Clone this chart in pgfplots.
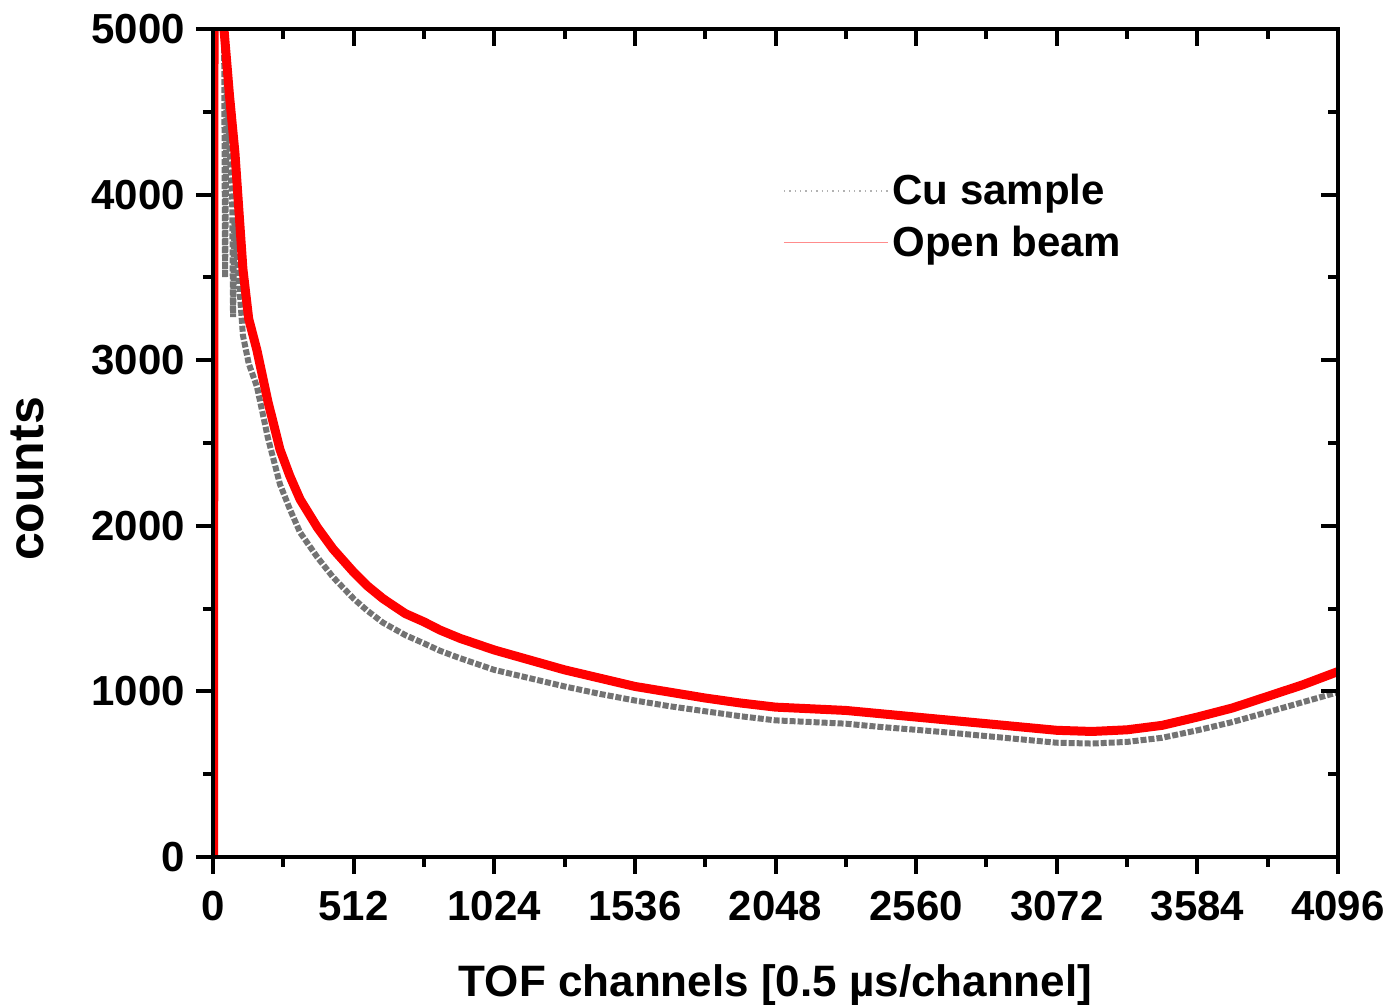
\documentclass[border=0pt]{standalone}
\usepackage{fontspec}
\setmainfont{Liberation Sans}
\usepackage{pgfplots}
\pgfplotsset{compat=1.18}

\pgfplotsset{
  tofaxis/.style={
    scale only axis,
    width=562.5pt, height=414pt,
    xmin=0, xmax=4096, ymin=0, ymax=5000,
    xtick={0,512,...,4096},
    ytick={0,1000,...,5000},
    minor x tick num=1,
    minor y tick num=1,
    major tick length=8.5pt,
    minor tick length=5pt,
    every tick/.style={black, line width=2pt},
    every minor tick/.style={black, line width=2pt},
    axis line style={line width=2pt},
  },
}

\begin{document}
\begin{tikzpicture}
\begin{axis}[
  tofaxis,
  name=ax,
  tick align=outside,
  tick pos=left,
  /pgf/number format/assume math mode=true,
  /pgf/number format/set thousands separator={},
  ticklabel style={font=\fontsize{21}{22}\selectfont\bfseries},
  xticklabel style={yshift=-5pt},
  yticklabel style={xshift=-2pt},
  xlabel={TOF channels [0.5 µs/channel]},
  ylabel={counts},
  xlabel style={font=\fontsize{22}{24}\selectfont\bfseries, yshift=-15pt},
  ylabel style={font=\fontsize{25}{26}\selectfont\bfseries, yshift=17pt, xshift=-18pt},
  legend style={at={(axis cs:2074,4150)}, anchor=north west, draw=none, fill=none,
    font=\fontsize{21}{22}\selectfont\bfseries, row sep=5pt, inner sep=0pt},
  legend cell align=left,
  legend image code/.code={\draw[#1] (0pt,0pt) -- (52pt,0pt);},
]
% Cu sample
\addplot[black!55, line width=3pt, densely dotted,
  legend image post style={line width=0.7pt, gray!60, dotted}] coordinates {
(0,0) (2,0) (4,5800) (20,5500) (40,5200) (44,3500) (50,4700) (60,4300)
(70,3950) (73,3260) (78,3850) (109,3150) (130,2980) (160,2840) (200,2530)
(244,2250) (280,2100) (317,1960) (380,1810) (437,1690) (512,1560) (560,1490)
(619,1415) (700,1340) (768,1290) (827,1245) (900,1200) (1024,1130) (1152,1080)
(1280,1030) (1408,985) (1536,945) (1664,910) (1792,880) (1920,850) (2048,825)
(2176,815) (2304,805) (2432,785) (2560,768) (2688,750) (2816,730) (2944,710)
(3072,690) (3200,685) (3328,695) (3456,720) (3584,765) (3712,815) (3840,875)
(3968,935) (4096,995)
};
\addlegendentry{Cu sample}
% Open beam
\addplot[red, line width=4.5pt,
  legend image post style={line width=0.8pt, red!45}] coordinates {
(0,0) (2,0) (4,5800) (20,5600) (40,5000) (60,4600) (80,4250) (109,3550)
(130,3250) (160,3060) (200,2750) (244,2460) (280,2300) (317,2160) (380,1990)
(437,1860) (512,1720) (560,1640) (619,1560) (700,1470) (768,1420) (827,1370)
(900,1320) (1024,1250) (1152,1190) (1280,1130) (1408,1080) (1536,1030)
(1664,995) (1792,960) (1920,930) (2048,905) (2176,895) (2304,885) (2432,865)
(2560,845) (2688,825) (2816,805) (2944,785) (3072,765) (3200,758) (3328,768)
(3456,795) (3584,845) (3712,900) (3840,970) (3968,1040) (4096,1120)
};
\addlegendentry{Open beam}
\end{axis}
% mirrored inside ticks on top and right
\begin{axis}[
  tofaxis,
  tick align=inside,
  tick pos=right,
  xticklabels={}, yticklabels={},
]
\end{axis}
\pgfresetboundingbox
\path[use as bounding box] ([shift={(-106.5pt,-74pt)}]ax.south west)
  rectangle ([shift={(590pt,428.5pt)}]ax.south west);
\end{tikzpicture}
\end{document}
